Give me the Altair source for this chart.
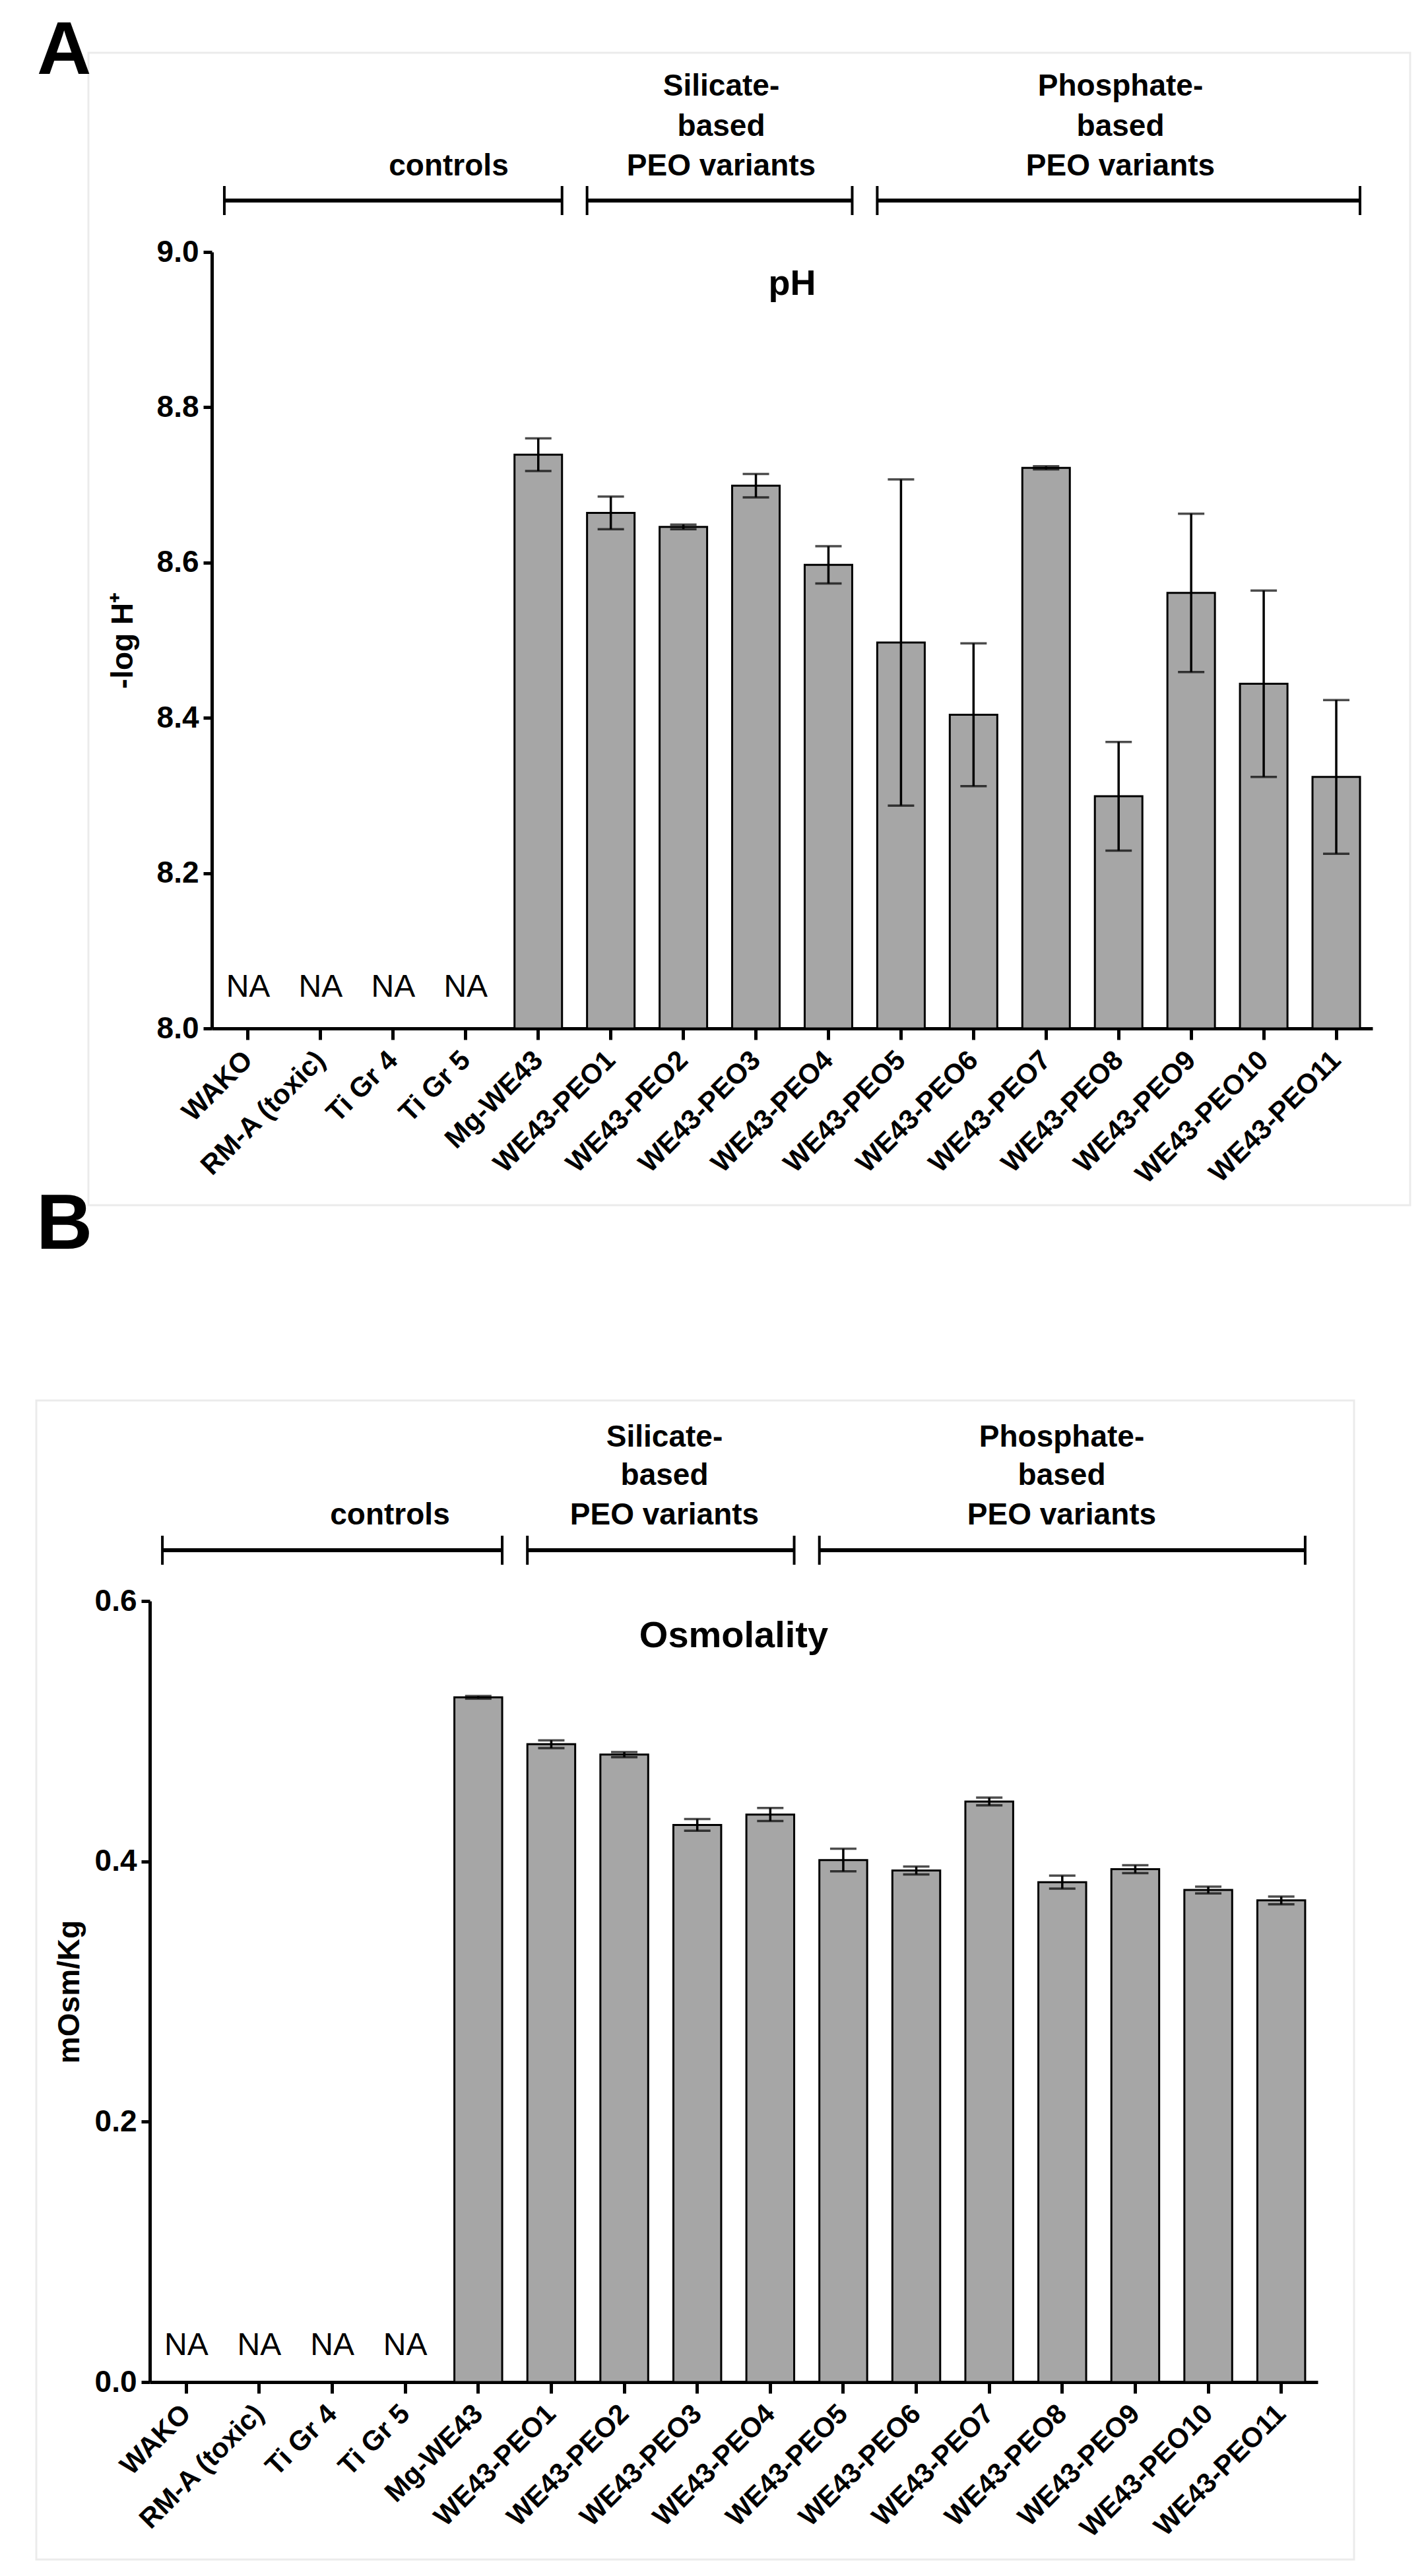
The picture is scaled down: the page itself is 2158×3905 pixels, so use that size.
import altair as alt
import pandas as pd

FONT = "Liberation Sans"

categories = ["WAKO", "RM-A (toxic)", "Ti Gr 4", "Ti Gr 5", "Mg-WE43",
              "WE43-PEO1", "WE43-PEO2", "WE43-PEO3", "WE43-PEO4", "WE43-PEO5",
              "WE43-PEO6", "WE43-PEO7", "WE43-PEO8", "WE43-PEO9", "WE43-PEO10",
              "WE43-PEO11"]

ph_mean = [None, None, None, None, 8.739, 8.664, 8.646, 8.699, 8.597, 8.497,
           8.404, 8.722, 8.299, 8.561, 8.444, 8.324]
ph_err = [None, None, None, None, 0.021, 0.021, 0.003, 0.015, 0.024, 0.210,
          0.092, 0.002, 0.070, 0.102, 0.120, 0.099]

osm_mean = [None, None, None, None, 0.526, 0.490, 0.482, 0.428, 0.436, 0.401,
            0.393, 0.446, 0.384, 0.394, 0.378, 0.370]
osm_err = [None, None, None, None, 0.001, 0.003, 0.002, 0.0045, 0.005, 0.0087,
           0.003, 0.003, 0.005, 0.003, 0.0026, 0.003]

ph_ticks = [8.0, 8.2, 8.4, 8.6, 8.8, 9.0]
osm_ticks = [0.0, 0.2, 0.4, 0.6]

group_first = ["WAKO", "WE43-PEO1", "WE43-PEO5"]
group_last = ["Mg-WE43", "WE43-PEO4", "WE43-PEO11"]
group_lines = [["controls"],
               ["Silicate-", "based", "PEO variants"],
               ["Phosphate-", "based", "PEO variants"]]


def txt(s, x, y, size, weight="bold", align="left", color="black"):
    return alt.Chart(alt.Data(values=[{"k": 0}])).mark_text(
        text=s, font=FONT, fontSize=size, fontWeight=weight, align=align,
        baseline="alphabetic", color=color
    ).encode(x=alt.value(x), y=alt.value(y))


def panel(values, errors, ticks, domain, ytitle, ptitle, W, H, cfg):
    d = cfg["shift"]          # the plot starts d px left of the panel origin
    df = pd.DataFrame({"cat": categories, "mean": values, "err": errors})
    xscale = alt.Scale(domain=categories, paddingInner=0.345, paddingOuter=0.1725,
                       range=[-d, W - d])
    xaxis = alt.Axis(title=None, labelAngle=315, labelAlign="right",
                     labelBaseline="middle", labelPadding=24, labelFontSize=42,
                     tickSize=17, labelLimit=0, labelOverlap=False)
    yscale = alt.Scale(domain=domain, nice=False, zero=False)
    yaxis = alt.Axis(values=ticks, format=".1f", title=ytitle, tickSize=13,
                     labelPadding=7, labelFontSize=46, titleFontSize=46,
                     titleX=cfg["titleX"], titleY=H / 2, titleAngle=270,
                     titleBaseline="middle", titleAlign="center",
                     labelOverlap=False, offset=d)

    def X(field, **kw):
        return alt.X(field, type="nominal", scale=xscale, axis=xaxis, sort=categories, **kw)

    def Y(field):
        return alt.Y(field, type="quantitative", scale=yscale, axis=yaxis)

    base = alt.Chart(df)
    border = alt.Chart(alt.Data(values=[{"k": 0}])).mark_rect(
        fillOpacity=0, stroke="#ebebeb", strokeWidth=3
    ).encode(x=alt.value(cfg["bx"][0] - d), x2=alt.value(cfg["bx"][1] - d),
             y=alt.value(cfg["by"][0]), y2=alt.value(cfg["by"][1]))

    bars = base.mark_bar(fill="#a6a6a6", stroke="black", strokeWidth=3).encode(
        x=X("cat"), y=Y("mean"), y2=alt.Y2Datum(domain[0]))

    err = base.transform_filter("isValid(datum.mean)").transform_calculate(
        lo="datum.mean - datum.err", hi="datum.mean + datum.err")
    ebar = err.mark_rule(color="black", strokeWidth=3.5).encode(
        x=X("cat"), y=Y("lo"), y2=alt.Y2("hi:Q"))
    cap_lo = err.mark_tick(color="black", thickness=3.5, size=40).encode(
        x=X("cat"), y=Y("lo"))
    cap_hi = err.mark_tick(color="black", thickness=3.5, size=40).encode(
        x=X("cat"), y=Y("hi"))

    na = base.transform_filter("!isValid(datum.mean)").mark_text(
        text="NA", font=FONT, fontSize=48, fontWeight="normal", color="black",
        baseline="alphabetic", dy=cfg["na_dy"]
    ).encode(x=X("cat"), y=alt.YDatum(domain[0], scale=yscale, axis=yaxis))

    br = pd.DataFrame({"first": group_first, "last": group_last})
    by = cfg["bracket_y"]
    bline = alt.Chart(br).mark_rule(color="black", strokeWidth=6).encode(
        x=X("first", bandPosition=0), x2=alt.X2("last", bandPosition=1),
        y=alt.value(by))
    bl = alt.Chart(br).mark_rule(color="black", strokeWidth=4).encode(
        x=X("first", bandPosition=0), y=alt.value(by - 22), y2=alt.value(by + 22))
    brr = alt.Chart(br).mark_rule(color="black", strokeWidth=4).encode(
        x=X("last", bandPosition=1), y=alt.value(by - 22), y2=alt.value(by + 22))

    layers = [border, bars, ebar, cap_lo, cap_hi, na, bline, bl, brr]
    for lines, gx in zip(group_lines, cfg["group_x"]):
        ys = cfg["line_y"][-len(lines):]
        for s, yy in zip(lines, ys):
            layers.append(txt(s, gx - d, yy, 46, align="center"))
    layers.append(txt(ptitle, W / 2 - d, cfg["title_y"], cfg["title_size"], align="center"))
    for letter, lx, ly, fs in cfg["letters"]:
        layers.append(txt(letter, lx - d, ly, fs, align="left"))

    return alt.layer(*layers).properties(width=W - d, height=H)


WA, HA = 1759, 1177
WB, HB = 1770, 1184

chartA = panel(ph_mean, ph_err, ph_ticks, [8.0, 9.0], "-log H\u207a", "pH", WA, HA, {
    "shift": 0,
    "titleX": -135, "bx": (-187, 1816), "by": (-302, 1445), "na_dy": -48,
    "bracket_y": -78, "group_x": [359, 772, 1377], "line_y": [-237, -176, -116],
    "title_y": 65, "title_size": 54,
    "letters": [("A", -265, -270, 114), ("B", -266, 1511, 118)],
})

# panel B's plot sits 94 px further left than panel A's
chartB = panel(osm_mean, osm_err, osm_ticks, [0.0, 0.6], "mOsm/Kg", "Osmolality", WB, HB, {
    "shift": 94,
    "titleX": -122, "bx": (-172, 1825), "by": (-304, 1453), "na_dy": -41,
    "bracket_y": -77, "group_x": [364, 780, 1382], "line_y": [-234, -176, -116],
    "title_y": 70, "title_size": 56,
    "letters": [],
})

chart = alt.concat(chartA, chartB, columns=1, spacing=204).properties(
    padding={"left": 45, "top": 13, "right": 5, "bottom": 5}
).configure_view(stroke=None).configure_axis(
    labelFont=FONT, titleFont=FONT, labelColor="black", titleColor="black",
    domainColor="black", tickColor="black", domainWidth=5, tickWidth=5,
    labelFontWeight="bold", titleFontWeight="bold", grid=False
)

chart.save("out.html", embed_options={"renderer": "svg", "actions": False})
